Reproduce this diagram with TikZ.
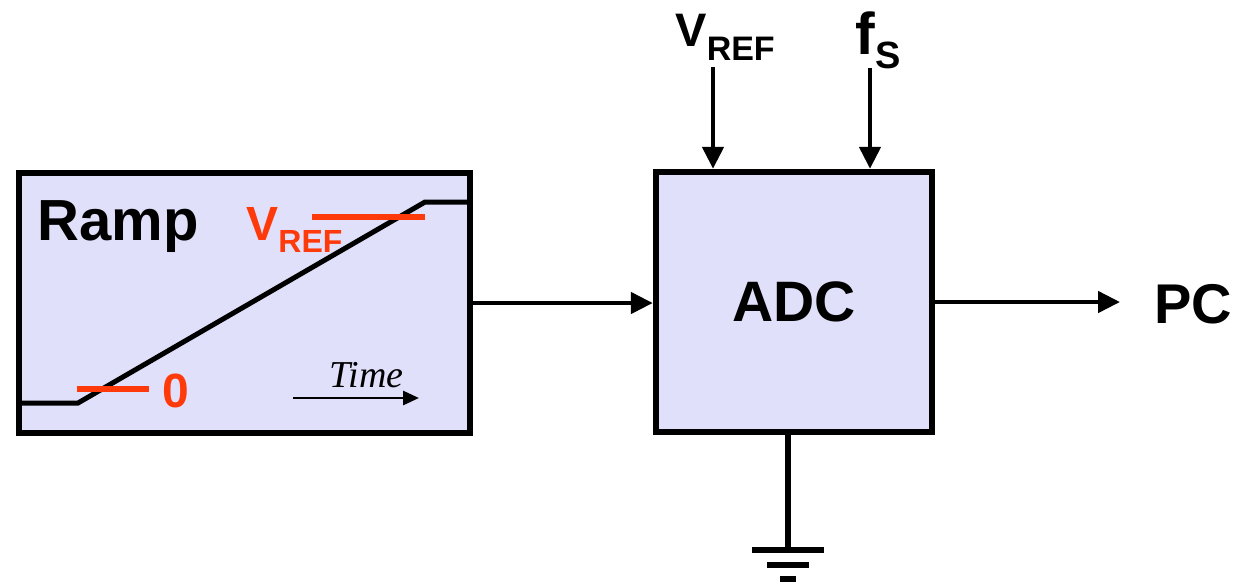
\documentclass[tikz,border=0pt]{standalone}
\usepackage{fontspec}
\setmainfont{Liberation Sans}
\newfontfamily\timesfont{Liberation Serif}
\usetikzlibrary{arrows.meta}
\definecolor{boxfill}{RGB}{224,224,250}
\definecolor{rampred}{RGB}{255,58,10}
\newcommand{\fsz}[1]{\fontsize{#1}{#1}\selectfont}
\begin{document}
\begin{tikzpicture}[x=0.5pt,y=-0.5pt,
  block/.style={draw, line width=3.2pt, fill=boxfill, inner sep=0pt},
  sig/.style={line width=2.3pt, -{Triangle[length=11pt,width=10.5pt]}},
  wave/.style={line width=2.5pt},
  redmark/.style={rampred, line width=2.8pt},
  lbl/.style={inner sep=0pt, font=\bfseries},
  gnd/.style={line width=2.8pt}]
\useasboundingbox (0,0) rectangle (1235,586);

% blocks
\node[block, minimum width=225.5pt, minimum height=130pt] (ramp) at (244.5,303) {};
\node[block, minimum width=138pt, minimum height=130pt, font=\fsz{28.5}\bfseries] (adc) at (794,302) {ADC};

% ramp contents
\node[lbl, anchor=base west, font=\fsz{29}\bfseries] (ramplbl) at (37,240) {Ramp};
\draw[wave] (19,403) -- (78,403) -- (425,202) -- (470,202);
\draw[redmark] (77,389) -- (149,389);
\draw[redmark] (312,217) -- (425,217);
\node[lbl, anchor=west, text=rampred, font=\fsz{24}\bfseries] (zero) at (162,391) {0};
\node[lbl, anchor=base west, text=rampred, font=\fsz{24}\bfseries] (vrefr) at (246,240) {V\raisebox{-6pt}{\fsz{16}REF}};
\node[inner sep=0pt, anchor=base west, font=\timesfont\itshape\fsz{19}] (time) at (329,387) {Time};
\coordinate (t0) at (293,398);
\coordinate (t1) at (419,398);
\draw[line width=1.4pt, -{Triangle[length=8pt,width=7pt]}] (t0) -- (t1);

% inputs
\node[lbl, anchor=base west, font=\fsz{23.5}\bfseries] (vref) at (675,46) {V\raisebox{-7pt}{\fsz{17}REF}};
\node[lbl, anchor=base west, font=\fsz{29.5}\bfseries] (fs) at (855,54) {f\raisebox{-7pt}{\fsz{19}S}};
\coordinate (vrefin) at (713,67);
\coordinate (fsin) at (870,68);
\draw[sig] (vrefin) -- (vrefin |- adc.north);
\draw[sig] (fsin) -- (fsin |- adc.north);

% signal path
\draw[sig] (ramp.east) -- (ramp.east -| adc.west);
\node[lbl, anchor=west, font=\fsz{28}\bfseries] (pc) at (1154,304) {PC};
\draw[sig, shorten >=17pt] (adc.east) -- (adc.east -| pc.west);

% ground
\coordinate (g) at (788,550);
\draw[gnd] (adc.south -| g) -- (g);
\coordinate (g1l) at (752,550); \coordinate (g1r) at (824,550);
\coordinate (g2l) at (767,565); \coordinate (g2r) at (809,565);
\coordinate (g3l) at (780,579); \coordinate (g3r) at (796,579);
\draw[gnd] (g1l) -- (g1r);
\draw[gnd] (g2l) -- (g2r);
\draw[gnd] (g3l) -- (g3r);
\end{tikzpicture}
\end{document}
